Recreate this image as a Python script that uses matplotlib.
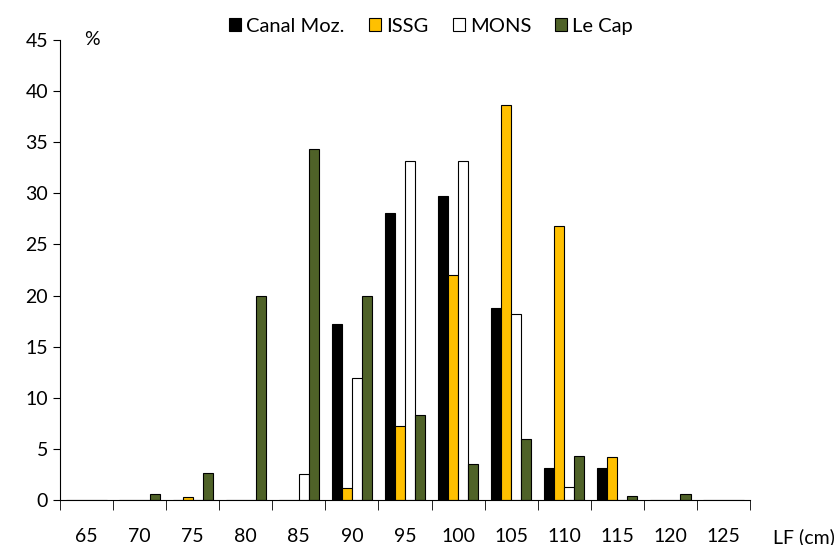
import matplotlib.pyplot as plt
import numpy as np

# classes de taille (LF, cm)
classes = [65, 70, 75, 80, 85, 90, 95, 100, 105, 110, 115, 120, 125]
canal_moz = [0, 0, 0, 0, 0, 17.2, 28.1, 29.7, 18.8, 3.1, 3.1, 0, 0]
issg = [0, 0, 0.25, 0, 0, 1.2, 7.2, 22.0, 38.6, 26.8, 4.2, 0, 0]
mons = [0, 0, 0, 0, 2.5, 11.9, 33.2, 33.2, 18.2, 1.3, 0, 0, 0]
le_cap = [0, 0.6, 2.6, 20.0, 34.3, 20.0, 8.3, 3.5, 6.0, 4.3, 0.4, 0.6, 0]

series = [("Canal Moz.", canal_moz, "black"),
          ("ISSG", issg, "#FFC000"),
          ("MONS", mons, "white"),
          ("Le Cap", le_cap, "#4F6228")]

plt.rcParams['font.family'] = ['Lato', 'DejaVu Sans']

fig = plt.figure(figsize=(8.4, 5.45), dpi=100)
ax = fig.add_axes([60/840, 45/545, 690/840, 460/545])

x = np.arange(len(classes))
w = 0.19
for i, (nom, vals, col) in enumerate(series):
    pos = x - 1.5*w + i*w
    ax.bar(pos, vals, width=w, color=col, edgecolor="black", linewidth=0.8, label=nom)

ax.set_xlim(-0.5, len(classes) - 0.5)
ax.set_ylim(0, 45)
ax.set_yticks(range(0, 50, 5))
ax.tick_params(axis='y', labelsize=14, length=5, direction='out')

ax.set_xticks(x)
ax.set_xticklabels([str(c) for c in classes])
ax.tick_params(axis='x', which='major', length=0, labelsize=14, pad=20)
ax.set_xticks(np.arange(-0.5, len(classes)), minor=True)
ax.tick_params(axis='x', which='minor', length=7, direction='out')

ax.spines['top'].set_visible(False)
ax.spines['right'].set_visible(False)

ax.text(0.1, 45, "%", fontsize=14, va='center', ha='center')
ax.text(12.93, -3.6, "LF (cm)", fontsize=14, va='center', ha='left', clip_on=False)

ax.legend(loc='center', bbox_to_anchor=(0.538, 1.03), ncol=4, frameon=False,
          fontsize=14.5, handlelength=0.6, handleheight=0.6, handletextpad=0.25,
          columnspacing=1.2)

plt.savefig("out.png")
